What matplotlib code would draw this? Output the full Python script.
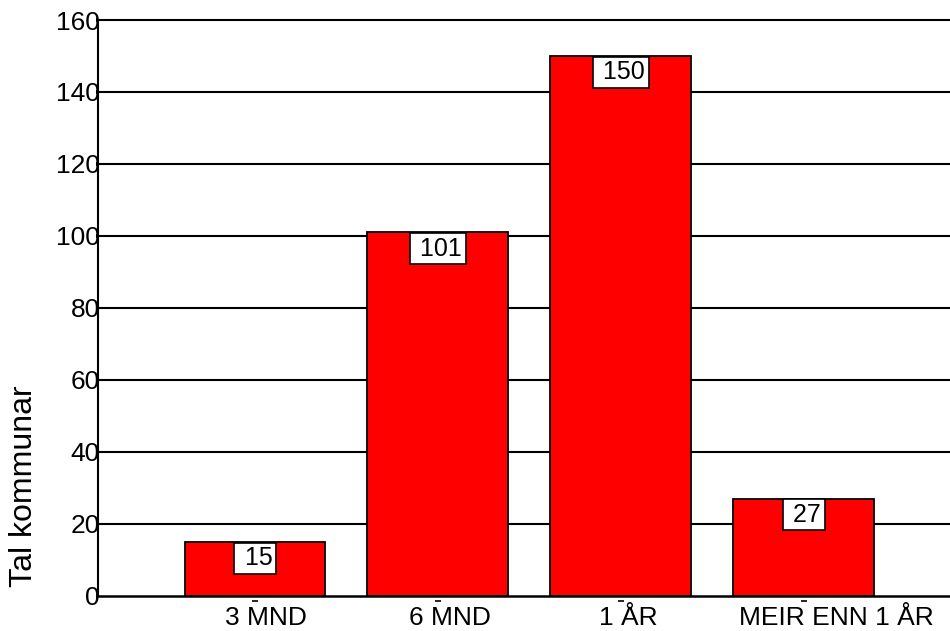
import matplotlib.pyplot as plt
import matplotlib.transforms as mtransforms

# categories and counts
categories = ['3 MND', '6 MND', '1 ÅR', 'MEIR ENN 1 ÅR']
counts = [15, 101, 150, 27]
y_ticks = [0, 20, 40, 60, 80, 100, 120, 140, 160]

plt.rcParams['font.family'] = ['Liberation Sans', 'DejaVu Sans']

fig = plt.figure(figsize=(9.5, 6.31), dpi=100)
ax = fig.add_axes([0.1032, 0.0555, 0.8968, 0.9128])

x = list(range(len(categories)))

# horizontal grid lines behind the bars
for t in y_ticks[1:]:
    ax.axhline(t, color='black', linewidth=1.5, zorder=1, clip_on=False)

ax.bar(x, counts, width=0.77, color='#ff0000', edgecolor='black',
       linewidth=1.3, zorder=2)

# value boxes near the top of each bar
for xi, v in zip(x, counts):
    ax.annotate(f' {v}', xy=(xi, v), xytext=(0, -3), textcoords='offset points',
                ha='center', va='top', fontsize=18, zorder=3,
                bbox=dict(boxstyle='square,pad=0.14', facecolor='white',
                          edgecolor='black', linewidth=1.2))

ax.set_xlim(-0.858, 3.80)
ax.set_ylim(0, 160)
ax.set_yticks(y_ticks)
ax.set_xticks(x)
ax.set_xticklabels(categories, fontsize=19)
ax.tick_params(axis='x', length=0, pad=7)
ax.tick_params(axis='y', labelsize=19, length=1.5, width=3, pad=-3)

# shift the category labels a little to the right
label_shift = [11, 12, 8, 33]
for lab, dx in zip(ax.get_xticklabels(), label_shift):
    lab.set_transform(lab.get_transform() +
                      mtransforms.ScaledTranslation(dx / 100, 0, fig.dpi_scale_trans))

# small dash marks under the axis for each category
trans = mtransforms.blended_transform_factory(ax.transData, ax.transAxes)
ax.plot(x, [-0.008] * len(x), linestyle='none', marker='_', markersize=5,
        markeredgewidth=1.2, color='black', transform=trans, clip_on=False)

ax.set_ylabel('Tal kommunar', fontsize=23)
ax.yaxis.set_label_coords(-0.069, 0.19)

for side in ['top', 'right']:
    ax.spines[side].set_visible(False)
ax.spines['left'].set_linewidth(1.5)
ax.spines['bottom'].set_linewidth(1.8)

fig.savefig('out.png', dpi=100)
